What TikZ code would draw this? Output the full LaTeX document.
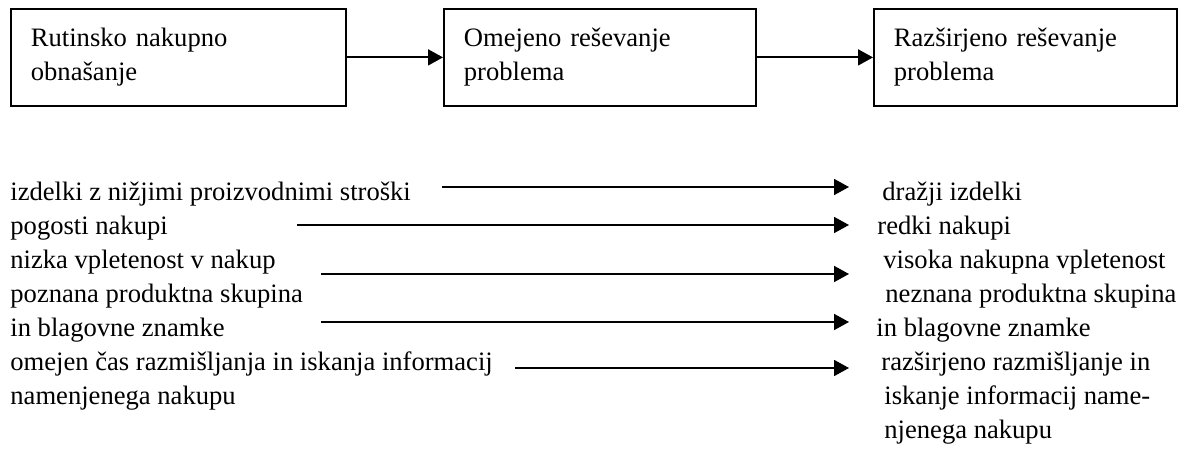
\documentclass[tikz,border=0pt]{standalone}
\usepackage{fontspec}
\setmainfont{Liberation Serif}
\usetikzlibrary{arrows.meta}

\tikzset{
  stagebox/.style={draw, line width=0.9pt, anchor=north west, minimum height=48.5pt,
    inner xsep=10pt, inner ysep=0pt, align=left, font=\fontsize{13.3}{17}\selectfont},
  txt/.style={anchor=base west, inner sep=0pt, font=\fontsize{13.3}{16}\selectfont},
  arr/.style={line width=0.9pt, -{Triangle[length=7.5pt,width=8pt]}},
}

\begin{document}
\begin{tikzpicture}[x=0.5pt,y=-0.5pt]
\useasboundingbox (0,0) rectangle (1178,459);

% Stages of the buying decision
\node[stagebox, text width=147.5pt] (rut) at (10,8) {Rutinsko nakupno\\obnašanje};
\node[stagebox, text width=136pt] (ome) at (443,8) {Omejeno reševanje\\problema};
\node[stagebox, text width=131.5pt] (raz) at (873,8) {Razširjeno reševanje\\problema};

\draw[arr] (rut) -- (ome);
\draw[arr] (ome) -- (raz);

% Left column
\node[txt] (l1) at (10,201) {izdelki z nižjimi proizvodnimi stroški};
\node[txt] (l2) at (10,235) {pogosti nakupi};
\node[txt] (l3) at (10,269) {nizka vpletenost v nakup};
\node[txt] (l4a) at (10,303) {poznana produktna skupina};
\node[txt] (l4b) at (10,337) {in blagovne znamke};
\node[txt] (l5a) at (10,371) {omejen čas razmišljanja in iskanja informacij};
\node[txt] (l5b) at (10,405) {namenjenega nakupu};

% Right column
\node[txt] (r1) at (882,201) {dražji izdelki};
\node[txt] (r2) at (877,235) {redki nakupi};
\node[txt] (r3) at (883,269) {visoka nakupna vpletenost};
\node[txt] (r4a) at (885,303) {neznana produktna skupina};
\node[txt] (r4b) at (876,337) {in blagovne znamke};
\node[txt] (r5a) at (881,371) {razširjeno razmišljanje in};
\node[txt] (r5b) at (884,405) {iskanje informacij name-};
\node[txt] (r5c) at (884,439) {njenega nakupu};

% Arrows between the columns
\coordinate (a1) at (442,187);  \coordinate (b1) at (849,187);
\coordinate (a2) at (297,225);  \coordinate (b2) at (849,225);
\coordinate (a3) at (321,274);  \coordinate (b3) at (849,274);
\coordinate (a4) at (321,322);  \coordinate (b4) at (849,322);
\coordinate (a5) at (515,368);  \coordinate (b5) at (849,368);

\draw[arr] (a1) -- (b1);
\draw[arr] (a2) -- (b2);
\draw[arr] (a3) -- (b3);
\draw[arr] (a4) -- (b4);
\draw[arr] (a5) -- (b5);

\end{tikzpicture}
\end{document}
